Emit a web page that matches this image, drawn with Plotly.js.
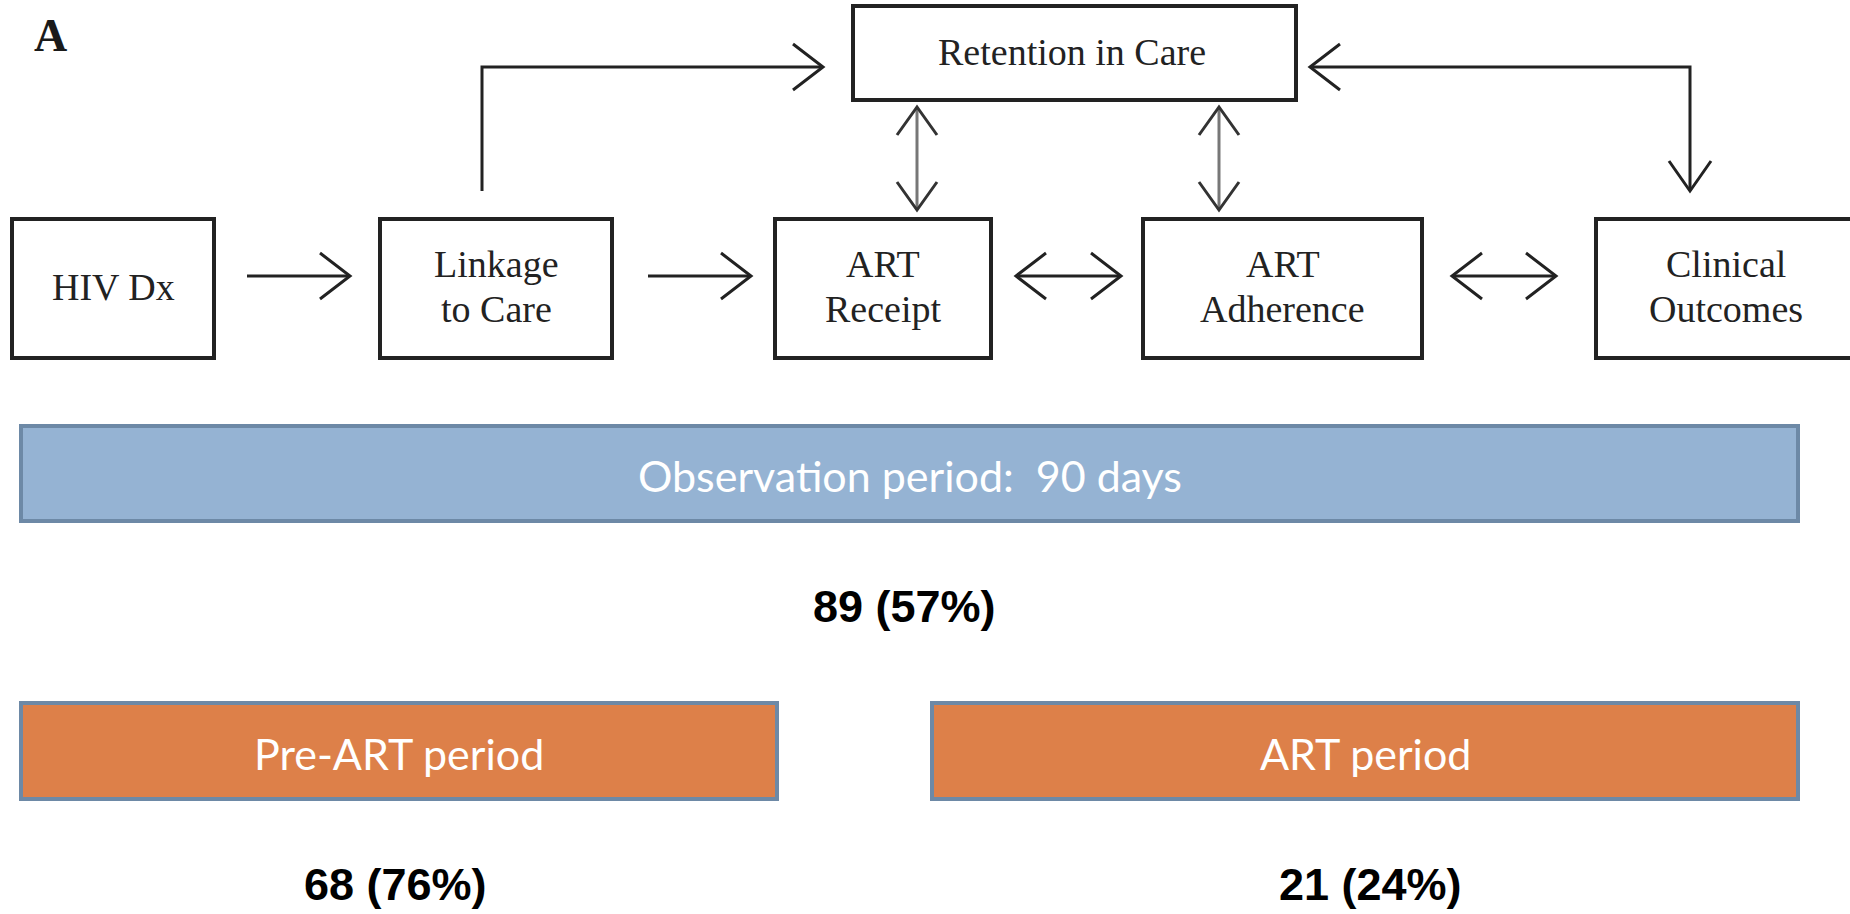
<!DOCTYPE html>
<html>
<head>
<meta charset="utf-8">
<script src="https://cdn.plot.ly/plotly-3.0.1.min.js"></script>
<style>html,body{margin:0;padding:0;background:#fff;}#chart{width:1850px;height:914px;}</style>
</head>
<body>
<div id="chart"></div>
<script>
// ---- data ----
const panelLabel = 'A';
const stages = ['HIV Dx', 'Linkage<br>to Care', 'ART<br>Receipt', 'ART<br>Adherence', 'Clinical<br>Outcomes'];
const retentionLabel = 'Retention in Care';
const periods = ['Observation period:\u00a0 90 days', 'Pre-ART period', 'ART period'];
const counts = [89, 68, 21];
const percents = [57, 76, 24];

// ---- layout geometry (pixel space of the axes) ----
const stageX = [[12, 214], [380, 612], [775, 991], [1143, 1422], [1596, 1858]];
const stageY = [219, 358];
const retBox = {x0: 853, x1: 1296, y0: 6, y1: 100};
const barBoxes = [
  {x0: 21, x1: 1798, y0: 426, y1: 521},
  {x0: 21, x1: 777, y0: 703, y1: 799},
  {x0: 932, x1: 1798, y0: 703, y1: 799}
];
const barFills = ['#95b3d3', '#dd8049', '#dd8049'];
const barLine = '#6d89a6';
const countPos = [[904, 606], [395, 884], [1370, 884]];
const ink = '#222222';

const shapes = [];
const ann = [];

function rect(x0, x1, y0, y1, fill, lc, lw) {
  shapes.push({type: 'rect', xref: 'x', yref: 'y', x0, x1, y0, y1,
    fillcolor: fill, line: {color: lc, width: lw}, layer: 'below'});
}
function path(d, color, w) {
  shapes.push({type: 'path', xref: 'x', yref: 'y', path: d, line: {color: color, width: w}, fillcolor: 'rgba(0,0,0,0)'});
}
// chevron head pointing in direction dir ('r','l','u','d') with tip at (x,y)
function head(x, y, dir, len, half, color) {
  let d;
  if (dir === 'r') d = `M${x - len},${y - half} L${x},${y} L${x - len},${y + half}`;
  if (dir === 'l') d = `M${x + len},${y - half} L${x},${y} L${x + len},${y + half}`;
  if (dir === 'u') d = `M${x - half},${y + len} L${x},${y} L${x + half},${y + len}`;
  if (dir === 'd') d = `M${x - half},${y - len} L${x},${y} L${x + half},${y - len}`;
  path(d, color, 3);
}
function text(x, y, t, font, anchor) {
  ann.push({xref: 'x', yref: 'y', x, y, text: t, showarrow: false,
    xanchor: anchor || 'center', yanchor: 'middle', font});
}

// stage boxes
const serif = {family: 'Liberation Serif, Times New Roman, serif', size: 38, color: ink};
stages.forEach((s, i) => {
  const [x0, x1] = stageX[i];
  rect(x0, x1, stageY[0], stageY[1], '#ffffff', ink, 4);
  const cx = i === 4 ? 1726 : (x0 + x1) / 2;
  const lines = s.split('<br>');
  if (lines.length === 1) {
    text(cx, 287, lines[0], serif);
  } else {
    text(cx, 264, lines[0], serif);
    text(cx, 309, lines[1], serif);
  }
});
// retention box
rect(retBox.x0, retBox.x1, retBox.y0, retBox.y1, '#ffffff', ink, 4);
text((retBox.x0 + retBox.x1) / 2 - 3, 52, retentionLabel, serif);

// horizontal arrows between stages
const ay = 276;
path(`M247,${ay} L350,${ay}`, ink, 3); head(350, ay, 'r', 30, 23, ink);
path(`M648,${ay} L751,${ay}`, ink, 3); head(751, ay, 'r', 30, 23, ink);
path(`M1016,${ay} L1121,${ay}`, ink, 3); head(1016, ay, 'l', 30, 23, ink); head(1121, ay, 'r', 30, 23, ink);
path(`M1452,${ay} L1556,${ay}`, ink, 3); head(1452, ay, 'l', 30, 23, ink); head(1556, ay, 'r', 30, 23, ink);

// linkage -> retention
path('M482,191 L482,67 L823,67', ink, 3); head(823, 67, 'r', 30, 23, ink);
// clinical -> retention (two-way)
path('M1310,67 L1690,67 L1690,191', ink, 3); head(1310, 67, 'l', 30, 23, ink); head(1690, 191, 'd', 30, 21, ink);
// vertical two-way arrows
[917, 1219].forEach(x => {
  path(`M${x},107 L${x},210`, '#777777', 3);
  head(x, 107, 'u', 28, 20, '#333333');
  head(x, 210, 'd', 28, 20, '#333333');
});

// panel label
text(50, 35, '<b>' + panelLabel + '</b>', {family: 'Liberation Serif, Times New Roman, serif', size: 46, color: '#1a1a1a'});

// period bars
const sans = {family: 'Lato, Open Sans, sans-serif', size: 43, color: '#ffffff'};
periods.forEach((p, i) => {
  const b = barBoxes[i];
  rect(b.x0, b.x1, b.y0, b.y1, barFills[i], barLine, 4);
  text((b.x0 + b.x1) / 2, (b.y0 + b.y1) / 2 + 2, p, sans);
});
// counts
const bold = {family: 'Liberation Sans, Arial, sans-serif', size: 45, color: '#000000'};
counts.forEach((c, i) => {
  text(countPos[i][0], countPos[i][1], `<b>${c} (${percents[i]}%)</b>`, bold);
});

Plotly.newPlot('chart', [], {
  width: 1850, height: 914,
  margin: {l: 0, r: 0, t: 0, b: 0, pad: 0},
  paper_bgcolor: '#ffffff', plot_bgcolor: '#ffffff',
  xaxis: {range: [0, 1850], visible: false, fixedrange: true},
  yaxis: {range: [914, 0], visible: false, fixedrange: true},
  showlegend: false,
  shapes: shapes,
  annotations: ann
}, {displayModeBar: false, staticPlot: true});
</script>
</body>
</html>
